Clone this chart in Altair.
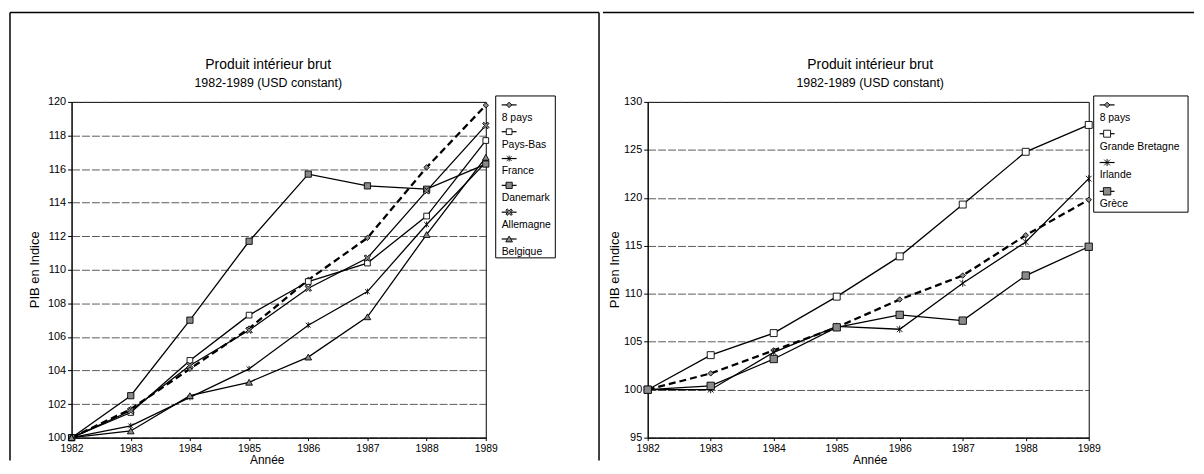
import altair as alt
import pandas as pd

years = [1982, 1983, 1984, 1985, 1986, 1987, 1988, 1989]

huit_pays = [100, 101.7, 104.1, 106.5, 109.4, 111.9, 116.1, 119.8]
pays_bas = [100, 101.5, 104.6, 107.3, 109.3, 110.4, 113.2, 117.7]
france = [100, 100.7, 102.4, 104.1, 106.7, 108.7, 112.7, 116.4]
danemark = [100, 102.5, 107.0, 111.7, 115.7, 115.0, 114.8, 116.3]
allemagne = [100, 101.6, 104.3, 106.4, 108.9, 110.7, 114.7, 118.6]
belgique = [100, 100.4, 102.5, 103.3, 104.8, 107.2, 112.1, 116.7]
grande_bretagne = [100, 103.6, 105.9, 109.7, 113.9, 119.3, 124.8, 127.6]
irlande = [100, 100.0, 103.9, 106.6, 106.3, 111.1, 115.4, 122.0]
grece = [100, 100.4, 103.2, 106.5, 107.8, 107.2, 111.9, 114.9]

left_names = ["8 pays", "Pays-Bas", "France", "Danemark", "Allemagne", "Belgique"]
right_names = ["8 pays", "Grande Bretagne", "Irlande", "Grèce"]
left_values = [huit_pays, pays_bas, france, danemark, allemagne, belgique]
right_values = [huit_pays, grande_bretagne, irlande, grece]

left_ticks = [100, 102, 104, 106, 108, 110, 112, 114, 116, 118, 120]
right_ticks = [95, 100, 105, 110, 115, 120, 125, 130]

title_text = "Produit intérieur brut"
subtitle_text = "1982-1989 (USD constant)"
y_title = "PIB en Indice"
x_title = "Année"

FONT = "Liberation Sans"

# marker styles per series
ALL = ["8 pays", "Pays-Bas", "France", "Danemark", "Allemagne", "Belgique",
       "Grande Bretagne", "Irlande", "Grèce"]
ASTER = "M-0.8,-0.8L0.8,0.8M-0.8,0.8L0.8,-0.8M0,-1L0,1"
XSHAPE = "M-1,-0.6L-0.6,-1L0,-0.4L0.6,-1L1,-0.6L0.4,0L1,0.6L0.6,1L0,0.4L-0.6,1L-1,0.6L-0.4,0Z"
SHAPES = ["diamond", "square", ASTER, "square", XSHAPE, "triangle-up", "square", ASTER, "square"]
FILLS = ["#8a8a8a", "white", "black", "#8a8a8a", "#8a8a8a", "#8a8a8a", "white", "black", "#8a8a8a"]
SIZES = [30, 55, 60, 45, 65, 60, 55, 60, 45]

shape_enc = alt.Shape("series:N", scale=alt.Scale(domain=ALL, range=SHAPES), legend=None)
fill_enc = alt.Fill("series:N", scale=alt.Scale(domain=ALL, range=FILLS), legend=None)
size_enc = alt.Size("series:N", scale=alt.Scale(domain=ALL, range=SIZES), legend=None)


def one_row():
    return pd.DataFrame({"k": [0]})


def build_panel(names, values, y_dom, y_ticks, W, H, g):
    rows = []
    for n, vals in zip(names, values):
        for yr, v in zip(years, vals):
            rows.append({"series": n, "year": yr, "value": v})
    df = pd.DataFrame(rows)
    leg = pd.DataFrame({"series": names})

    x_enc = alt.X("year:Q", scale=alt.Scale(domain=[1982, 1989], nice=False, zero=False),
                  axis=alt.Axis(values=years, format="d", grid=False, title=None,
                                labelFlush=False, tickSize=3, labelPadding=3,
                                labelFontSize=10.5))
    yscale = alt.Scale(domain=y_dom, nice=False, zero=False)

    base = alt.Chart(df)
    solid = base.transform_filter(alt.datum.series != "8 pays").mark_line(
        color="black", strokeWidth=1.3).encode(
        x=x_enc,
        y=alt.Y("value:Q", scale=yscale,
                axis=alt.Axis(values=y_ticks, grid=True, title=None, labelFlush=False)),
        detail="series:N")
    dashed = base.transform_filter(alt.datum.series == "8 pays").mark_line(
        color="black", strokeWidth=2.3, strokeDash=[7, 4]).encode(
        x=x_enc, y=alt.Y("value:Q", scale=yscale, axis=None))
    pts = base.mark_point(filled=True, stroke="black", strokeWidth=0.9, opacity=1).encode(
        x=x_enc, y=alt.Y("value:Q", scale=yscale, axis=None),
        shape=shape_enc, fill=fill_enc, size=size_enc)

    # frame
    fr = g["frame"]
    r = one_row()
    frame_top = alt.Chart(r).mark_rule(color="black", strokeWidth=1.5).encode(
        x=alt.value(fr[0]), x2=alt.value(fr[1]), y=alt.value(fr[2]))
    frame_left = alt.Chart(r).mark_rule(color="black", strokeWidth=1.5,
                                        opacity=g["left_op"]).encode(
        x=alt.value(fr[0]), y=alt.value(fr[2]), y2=alt.value(fr[3]))
    layers = [frame_top, frame_left]
    if g.get("divider") is not None:
        layers.append(alt.Chart(r).mark_rule(color="black", strokeWidth=1.5).encode(
            x=alt.value(g["divider"]), y=alt.value(fr[2]), y2=alt.value(fr[3])))

    # titles
    t1 = alt.Chart(r).mark_text(fontSize=14, align="center", baseline="middle",
                                color="black").encode(
        x=alt.value(g["title_x"]), y=alt.value(-37), text=alt.value(title_text))
    t2 = alt.Chart(r).mark_text(fontSize=12.5, align="center", baseline="middle",
                                color="black").encode(
        x=alt.value(g["title_x"]), y=alt.value(-19), text=alt.value(subtitle_text))
    yt = alt.Chart(r).mark_text(fontSize=13, angle=270, align="center",
                                baseline="middle", color="black").encode(
        x=alt.value(g["ytitle_x"]), y=alt.value(H / 2), text=alt.value(y_title))
    xt = alt.Chart(r).mark_text(fontSize=12, align="center", baseline="middle",
                                color="black").encode(
        x=alt.value(g["xtitle_x"]), y=alt.value(H + 23), text=alt.value(x_title))

    # legend
    lb = g["legbox"]
    box = alt.Chart(r).mark_rect(fill="white", stroke="black", strokeWidth=1).encode(
        x=alt.value(lb[0]), x2=alt.value(lb[1]), y=alt.value(lb[2]), y2=alt.value(lb[3]))
    ly = alt.Y("series:N", sort=names,
               scale=alt.Scale(type="point", domain=names, range=g["legrange"], padding=0),
               axis=None)
    lbase = alt.Chart(leg)
    lrule = lbase.mark_rule(color="black", strokeWidth=1.2).encode(
        x=alt.value(lb[0] + 6), x2=alt.value(lb[0] + 21), y=ly)
    lpts = lbase.mark_point(filled=True, stroke="black", strokeWidth=0.9, opacity=1).encode(
        x=alt.value(lb[0] + 13.5), y=ly, shape=shape_enc, fill=fill_enc, size=size_enc)
    ltext = lbase.mark_text(align="left", baseline="middle", dy=13, fontSize=10.5,
                            color="black").encode(
        x=alt.value(lb[0] + 6), y=ly, text="series:N")

    layers += [solid, dashed, pts, t1, t2, yt, xt, box, lrule, lpts, ltext]
    return alt.layer(*layers).resolve_scale(y="independent").properties(width=W, height=H)


left = build_panel(
    left_names, left_values, [100, 120], left_ticks, 417, 338,
    {"frame": [-62, 531, -90, 361], "left_op": 1, "divider": 531,
     "title_x": 198, "xtitle_x": 197, "ytitle_x": -37,
     "legbox": [427, 487, -6, 157], "legrange": [3, 138]})

right = build_panel(
    right_names, right_values, [95, 130], right_ticks, 444, 338,
    {"frame": [-45, 550, -90, 361], "left_op": 0, "divider": None,
     "title_x": 224, "xtitle_x": 224, "ytitle_x": -33,
     "legbox": [449, 544, -6, 111], "legrange": [3, 90]})

chart = alt.hconcat(left, right, spacing=0).properties(
    padding={"left": 0, "top": 1, "right": 0, "bottom": 0}
).configure(font=FONT).configure_view(
    stroke="black", strokeWidth=1
).configure_axis(
    labelFont=FONT, labelFontSize=11, labelColor="black",
    domainColor="black", domainWidth=1, tickColor="black", tickSize=4,
    labelPadding=2, gridColor="#333333", gridDash=[8, 2], gridWidth=0.8
)

chart.save("out.html", embed_options={"renderer": "svg", "actions": False})
